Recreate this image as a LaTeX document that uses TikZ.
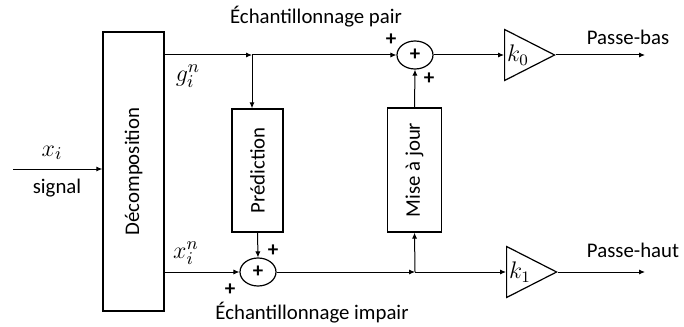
\documentclass[tikz,border=0pt]{standalone}
\usepackage{fontspec}
\setmainfont{Carlito}
\usetikzlibrary{arrows.meta,calc,positioning,shapes.geometric}

\begin{document}
\begin{tikzpicture}[x=.5pt,y=.5pt,
  font=\fontsize{10.4}{12}\selectfont,
  block/.style={draw,line width=.7pt,rotate=90,inner sep=0pt},
  sumnode/.style={ellipse,draw,line width=.6pt,minimum width=18pt,
                  minimum height=14pt,inner sep=0pt},
  gain/.style={isosceles triangle,isosceles triangle stretches,draw,
               line width=.6pt,minimum width=25.5pt,minimum height=25pt,
               inner sep=0pt,anchor=lower side,font=\fontsize{12}{14}\selectfont},
  flow/.style={-{Latex[length=3pt,width=2.6pt]},line width=.5pt},
  sign/.style={font=\bfseries\fontsize{10.5}{11}\selectfont,inner sep=1pt},
  mathlabel/.style={font=\fontsize{12.5}{14}\selectfont,inner sep=1pt}
]
% pixel grid of the 684 x 326 reference, y pointing down as negative values
\path[use as bounding box] (0,0) rectangle (684,-326);

\node[block,minimum width=139.5pt,minimum height=30.5pt] (decomp) at (133.5,-171.5) {Décomposition};
\node[block,minimum width=61.5pt,minimum height=25.5pt] (pred) at (257.5,-170.5) {Prédiction};
\node[block,minimum width=62pt,minimum height=27pt] (update) at (414.5,-170) {Mise à jour};

\node[sumnode] (sumeven) at (415,-55) {\textbf{+}};
\node[sumnode] (sumodd) at (258,-272) {\textbf{+}};

\node[gain] (kzero) at (504,-55) {$k_0$};
\node[gain] (kone) at (506,-272) {$k_1$};

\coordinate (input) at (13,-169);
\coordinate (split) at (252,-55);
\coordinate (join) at (415,-272);
\coordinate (lowout) at (645,-55);
\coordinate (highout) at (645,-272);

% input and the two branches
\draw[flow] (input) -- (decomp.north |- input);
\draw[flow] (decomp.south |- split) -- (split);
\draw[flow] (split) -- (sumeven.west);
\draw[flow] (split) -- (split |- pred.east);
\draw[flow] (pred.west) -- (sumodd.north);
\draw[flow] (decomp.south |- sumodd) -- (sumodd.west);
\draw[flow] (sumodd.east) -- (join);
\draw[flow] (join) -- (kone.lower side);
\draw[flow] (join) -- (update.west);
\draw[flow] (update.east) -- (sumeven.south);
\draw[flow] (sumeven.east) -- (kzero.lower side);
\draw[flow] (kzero.apex) -- (lowout);
\draw[flow] (kone.apex) -- (highout);

% labels
\node (evenlabel) at (316,-17) {Échantillonnage pair};
\node (oddlabel) at (312,-313) {Échantillonnage impair};
\node (lowlabel) at (628,-37) {Passe-bas};
\node (highlabel) at (633,-250) {Passe-haut};
\node[mathlabel] (xlabel) at (52,-153) {$x_i$};
\node (signallabel) at (57,-188) {signal};
\node[mathlabel] (glabel) at (188,-76) {$g_i^n$};
\node[mathlabel] (xnlabel) at (186,-253) {$x_i^n$};

\node[sign] (evenplusa) at (391,-40) {+};
\node[sign] (evenplusb) at (429,-79) {+};
\node[sign] (oddplusa) at (273,-251) {+};
\node[sign] (oddplusb) at (230,-290) {+};
\end{tikzpicture}
\end{document}
